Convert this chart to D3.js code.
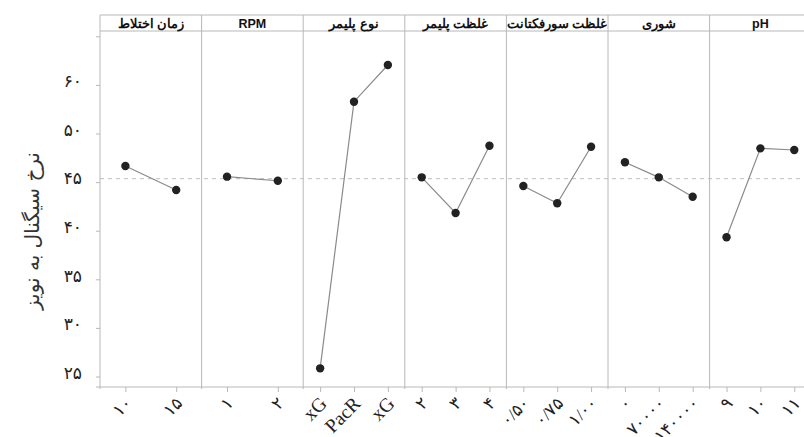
<!DOCTYPE html>
<html>
<head>
<meta charset="utf-8">
<script src="https://cdn.jsdelivr.net/npm/d3@7"></script>
<style>
  html, body { margin: 0; padding: 0; background: #fff; }
  svg { display: block; }
</style>
</head>
<body>
<div id="chart"></div>
<script>
// Main effects plot for signal-to-noise ratio, one panel per factor
const factors = ["زمان اختلاط", "RPM", "نوع پلیمر", "غلظت پلیمر", "غلظت سورفکتانت", "شوری", "pH"];
const levelLabels = [
  ["۱۰", "۱۵"],
  ["۱", "۲"],
  ["xG", "PacR", "xG"],
  ["۲", "۳", "۴"],
  ["۰/۵۰", "۰/۷۵", "۱/۰۰"],
  ["۰", "۷۰۰۰۰", "۱۴۰۰۰۰"],
  ["۹", "۱۰", "۱۱"]
];
const snMeans = [
  [46.66, 44.19],
  [45.56, 45.14],
  [25.84, 53.27, 57.05],
  [45.49, 41.82, 48.74],
  [44.60, 42.82, 48.64],
  [47.04, 45.49, 43.50],
  [39.32, 48.47, 48.30]
];
const grandMean = 45.35;
const yTickValues = [25, 30, 35, 40, 45, 50, 55, 60];
const yTickLabels = ["۲۵", "۳۰", "۳۵", "۴۰", "۴۵", "۵۰", "۶۰", ""];
const yTitle = "نرخ سیگنال به نویز";

const W = 804, H = 437;
const plotLeft = 100, panelW = 101.6, plotTop = 15, stripH = 16, plotBottom = 387;
const frame = "#b8b8b8";
const labelFont = "'Liberation Serif', 'DejaVu Sans', serif";

const svg = d3.select("#chart").append("svg")
  .attr("width", W).attr("height", H)
  .attr("direction", "ltr");

const y = d3.scaleLinear().domain([25, 60]).range([376.5, 36.3]);
const panelX = d3.scaleBand().domain(d3.range(factors.length))
  .range([plotLeft, plotLeft + panelW * factors.length]).padding(0);

// y axis on the left, ticks outside the frame
const yAxis = d3.axisLeft(y).tickValues(yTickValues)
  .tickFormat((d, i) => yTickLabels[i]).tickSize(4).tickPadding(14);
const gy = svg.append("g").attr("transform", `translate(${plotLeft},0)`).call(yAxis);
gy.select(".domain").remove();
gy.selectAll(".tick line").attr("stroke", frame);
gy.selectAll(".tick text")
  .attr("font-family", labelFont)
  .attr("font-size", 17).attr("fill", "#222")
  .attr("dy", "0.1em");

// y title
svg.append("text")
  .attr("transform", `translate(32,${(plotTop + plotBottom) / 2 + 30}) rotate(-90)`)
  .attr("text-anchor", "middle")
  .attr("dy", "0.35em")
  .attr("font-family", "'DejaVu Sans', serif")
  .attr("font-size", 20).attr("fill", "#333")
  .text(yTitle);

// grand mean reference line
svg.append("line")
  .attr("x1", plotLeft).attr("x2", W)
  .attr("y1", y(grandMean)).attr("y2", y(grandMean))
  .attr("stroke", "#bdbdbd").attr("stroke-width", 1)
  .attr("stroke-dasharray", "4,4");

// bottom baseline
svg.append("line")
  .attr("x1", plotLeft - 4).attr("x2", W)
  .attr("y1", plotBottom).attr("y2", plotBottom)
  .attr("stroke", frame);

// top border and strip bottom
svg.append("line").attr("x1", plotLeft).attr("x2", W)
  .attr("y1", plotTop).attr("y2", plotTop).attr("stroke", frame);
svg.append("line").attr("x1", plotLeft).attr("x2", W)
  .attr("y1", plotTop + stripH).attr("y2", plotTop + stripH).attr("stroke", frame);

factors.forEach((f, i) => {
  const x0 = panelX(i), x1 = x0 + panelX.bandwidth();
  const g = svg.append("g");

  // panel border
  g.append("line").attr("x1", x0).attr("x2", x0)
    .attr("y1", plotTop).attr("y2", plotBottom + 2).attr("stroke", frame);
  if (i === factors.length - 1) {
    g.append("line").attr("x1", x1).attr("x2", x1)
      .attr("y1", plotTop).attr("y2", plotBottom + 2).attr("stroke", frame);
  }

  // strip label
  g.append("text")
    .attr("x", (x0 + x1) / 2).attr("y", plotTop + stripH / 2 + 1)
    .attr("dy", "0.35em").attr("text-anchor", "middle")
    .attr("font-family", "'Liberation Sans', Arial, sans-serif")
    .attr("font-weight", "bold").attr("font-size", 12.5).attr("fill", "#111")
    .text(f);

  const idx = d3.range(levelLabels[i].length);
  const x = d3.scalePoint().domain(idx).range([x0, x1]).padding(0.5);

  // x axis for this factor
  const xAxis = d3.axisBottom(x).tickSize(5).tickFormat(() => "");
  const gx = g.append("g").attr("transform", `translate(0,${plotBottom})`).call(xAxis);
  gx.select(".domain").remove();
  gx.selectAll(".tick line").attr("stroke", frame);

  // level labels; Latin names use a slightly larger serif size
  g.selectAll("text.lvl").data(idx).enter().append("text")
    .attr("class", "lvl")
    .attr("transform", d => `translate(${x(d) + 3},${plotBottom + 13}) rotate(-45)`)
    .attr("text-anchor", "end").attr("dy", "0.35em")
    .attr("font-family", labelFont)
    .attr("font-size", d => /[A-Za-z]/.test(levelLabels[i][d]) ? 19.5 : 17)
    .attr("fill", "#222")
    .text(d => levelLabels[i][d]);

  // mean line and points
  const line = d3.line().x(d => x(d)).y(d => y(snMeans[i][d]));
  g.append("path").datum(idx)
    .attr("d", line).attr("fill", "none")
    .attr("stroke", "#8a8a8a").attr("stroke-width", 1.2);

  g.selectAll("circle").data(idx).enter().append("circle")
    .attr("cx", d => x(d)).attr("cy", d => y(snMeans[i][d]))
    .attr("r", 4.2).attr("fill", "#222");
});
</script>
</body>
</html>
